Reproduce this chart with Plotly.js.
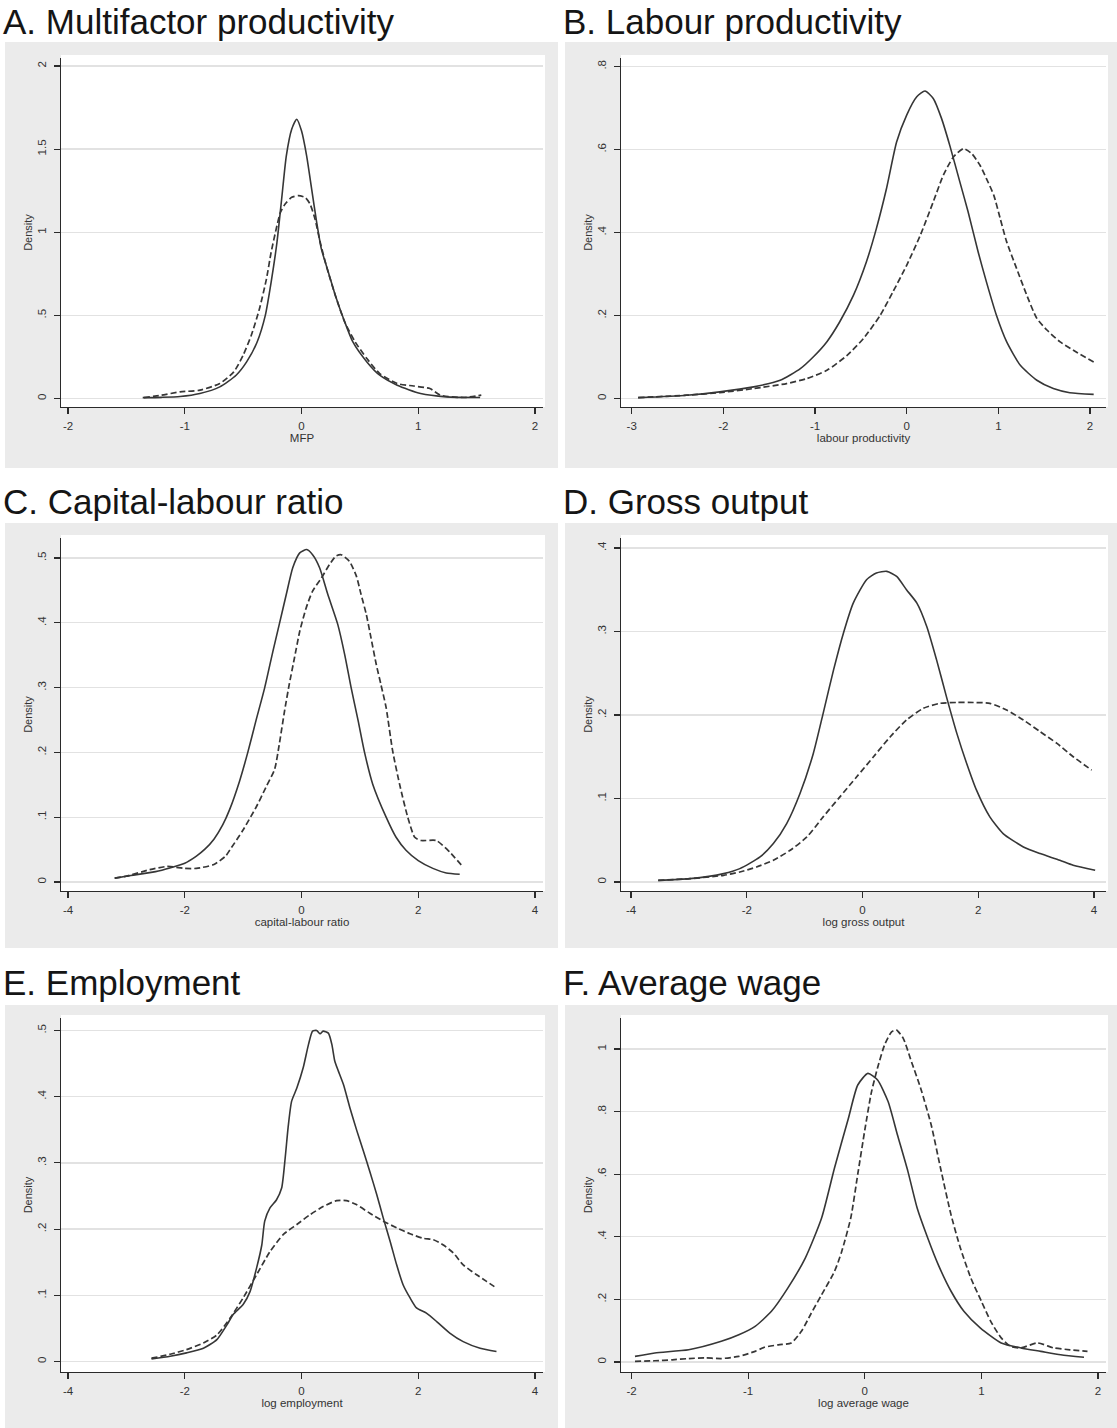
<!DOCTYPE html>
<html><head><meta charset="utf-8">
<script src="https://cdn.plot.ly/plotly-3.0.1.min.js"></script>
<style>html,body{margin:0;padding:0;background:#fff}#chart{width:1117px;height:1428px}</style>
</head><body><div id="chart"></div>
<script>
// ---------------- DATA ----------------
// Panel titles and axis titles
const panelTitles = ['A. Multifactor productivity','B. Labour productivity','C. Capital-labour ratio','D. Gross output','E. Employment','F. Average wage'];
const xTitles = ['MFP','labour productivity','capital-labour ratio','log gross output','log employment','log average wage'];
const yTitle = 'Density';

// Tick values / labels
const xTickValsA = [-2,-1,0,1,2];        const xTickTextA = ['-2','-1','0','1','2'];
const yTickValsA = [0,0.5,1,1.5,2];      const yTickTextA = ['0','.5','1','1.5','2'];
const xTickValsB = [-3,-2,-1,0,1,2];     const xTickTextB = ['-3','-2','-1','0','1','2'];
const yTickValsB = [0,0.2,0.4,0.6,0.8];  const yTickTextB = ['0','.2','.4','.6','.8'];
const xTickValsC = [-4,-2,0,2,4];        const xTickTextC = ['-4','-2','0','2','4'];
const yTickValsC = [0,0.1,0.2,0.3,0.4,0.5]; const yTickTextC = ['0','.1','.2','.3','.4','.5'];
const xTickValsD = [-4,-2,0,2,4];        const xTickTextD = ['-4','-2','0','2','4'];
const yTickValsD = [0,0.1,0.2,0.3,0.4];  const yTickTextD = ['0','.1','.2','.3','.4'];
const xTickValsE = [-4,-2,0,2,4];        const xTickTextE = ['-4','-2','0','2','4'];
const yTickValsE = [0,0.1,0.2,0.3,0.4,0.5]; const yTickTextE = ['0','.1','.2','.3','.4','.5'];
const xTickValsF = [-2,-1,0,1,2];        const xTickTextF = ['-2','-1','0','1','2'];
const yTickValsF = [0,0.2,0.4,0.6,0.8,1]; const yTickTextF = ['0','.2','.4','.6','.8','1'];

// A. Multifactor productivity
const aSolidX = [-1.36,-1.2,-1.04,-0.87,-0.7,-0.56,-0.47,-0.38,-0.31,-0.26,-0.21,-0.17,-0.13,-0.084,-0.041,0.0,0.044,0.087,0.13,0.17,0.23,0.29,0.36,0.44,0.56,0.67,0.82,1.02,1.24,1.53];
const aSolidY = [0.005,0.007,0.012,0.03,0.07,0.14,0.22,0.34,0.5,0.7,0.94,1.2,1.46,1.62,1.68,1.61,1.46,1.26,1.06,0.9,0.76,0.62,0.48,0.34,0.22,0.14,0.08,0.03,0.01,0.006];
const aDashX = [-1.35,-1.2,-1.04,-0.87,-0.7,-0.58,-0.5,-0.43,-0.36,-0.3,-0.26,-0.21,-0.18,-0.14,-0.084,-0.027,0.03,0.073,0.116,0.16,0.22,0.29,0.37,0.46,0.56,0.67,0.82,0.96,1.1,1.19,1.39,1.54];
const aDashY = [0.005,0.02,0.04,0.05,0.09,0.16,0.26,0.38,0.54,0.72,0.88,1.04,1.12,1.17,1.21,1.22,1.21,1.17,1.08,0.94,0.78,0.62,0.46,0.34,0.24,0.15,0.09,0.075,0.06,0.02,0.006,0.02];

// B. Labour productivity
const bSolidX = [-2.93,-2.4,-2.04,-1.67,-1.38,-1.16,-1.02,-0.87,-0.73,-0.58,-0.44,-0.33,-0.22,-0.11,0.0,0.11,0.2,0.29,0.38,0.47,0.58,0.67,0.78,0.87,0.98,1.09,1.24,1.42,1.6,1.78,2.04];
const bSolidY = [0.002,0.008,0.016,0.028,0.044,0.072,0.1,0.137,0.185,0.249,0.329,0.41,0.506,0.618,0.683,0.727,0.741,0.723,0.675,0.61,0.522,0.45,0.353,0.281,0.2,0.137,0.08,0.044,0.024,0.014,0.01];
const bDashX = [-2.93,-2.4,-2.04,-1.67,-1.31,-1.09,-0.87,-0.65,-0.47,-0.29,-0.15,0.0,0.15,0.29,0.4,0.51,0.62,0.71,0.8,0.87,0.95,1.02,1.09,1.2,1.31,1.42,1.53,1.67,1.85,2.04];
const bDashY = [0.002,0.008,0.014,0.024,0.036,0.048,0.068,0.104,0.145,0.2,0.257,0.321,0.394,0.474,0.538,0.582,0.602,0.59,0.562,0.53,0.49,0.434,0.378,0.313,0.249,0.193,0.165,0.137,0.112,0.088];

// C. Capital-labour ratio
const cSolidX = [-3.2,-3.0,-2.5,-2.0,-1.8,-1.65,-1.5,-1.35,-1.23,-1.06,-0.92,-0.78,-0.63,-0.49,-0.38,-0.26,-0.15,-0.03,0.09,0.19,0.31,0.45,0.62,0.74,0.85,0.97,1.08,1.22,1.45,1.62,1.79,2.0,2.25,2.48,2.71];
const cSolidY = [0.006,0.009,0.016,0.029,0.04,0.051,0.066,0.088,0.112,0.156,0.2,0.249,0.3,0.356,0.398,0.444,0.485,0.508,0.513,0.505,0.485,0.444,0.398,0.351,0.3,0.249,0.2,0.151,0.1,0.069,0.049,0.033,0.021,0.014,0.012];
const cDashX = [-3.2,-3.0,-2.6,-2.3,-2.0,-1.8,-1.5,-1.3,-1.23,-1.01,-0.78,-0.61,-0.46,-0.38,-0.29,-0.21,-0.12,-0.03,0.08,0.19,0.34,0.48,0.59,0.68,0.82,0.94,1.02,1.11,1.19,1.28,1.36,1.45,1.56,1.68,1.82,1.94,2.05,2.31,2.54,2.74];
const cDashY = [0.006,0.009,0.019,0.024,0.021,0.021,0.027,0.04,0.049,0.079,0.115,0.146,0.174,0.213,0.264,0.305,0.346,0.387,0.423,0.449,0.469,0.49,0.503,0.505,0.495,0.472,0.444,0.413,0.377,0.336,0.305,0.269,0.203,0.151,0.1,0.069,0.064,0.064,0.046,0.026];

// D. Gross output
const dSolidX = [-3.53,-2.98,-2.4,-2.12,-1.77,-1.54,-1.31,-1.08,-0.85,-0.68,-0.5,-0.33,-0.16,0.07,0.24,0.42,0.59,0.76,0.94,1.11,1.28,1.45,1.63,1.8,1.97,2.2,2.43,2.78,3.07,3.41,3.64,4.02];
const dSolidY = [0.002,0.004,0.01,0.016,0.03,0.046,0.07,0.106,0.154,0.202,0.254,0.298,0.334,0.362,0.37,0.372,0.366,0.35,0.334,0.306,0.266,0.222,0.178,0.142,0.11,0.078,0.058,0.042,0.034,0.026,0.02,0.014];
const dDashX = [-3.53,-2.98,-2.4,-2.12,-1.83,-1.54,-1.25,-0.96,-0.68,-0.39,-0.1,0.19,0.48,0.76,1.05,1.34,1.63,1.92,2.2,2.49,2.78,3.07,3.36,3.64,3.96];
const dDashY = [0.002,0.004,0.008,0.012,0.018,0.026,0.038,0.054,0.078,0.102,0.126,0.15,0.174,0.194,0.208,0.214,0.215,0.215,0.214,0.206,0.194,0.18,0.166,0.15,0.134];

// E. Employment
const eSolidX = [-2.57,-2.25,-1.97,-1.68,-1.45,-1.28,-1.17,-1.0,-0.88,-0.77,-0.68,-0.63,-0.54,-0.43,-0.34,-0.28,-0.23,-0.17,-0.08,0.03,0.12,0.19,0.26,0.32,0.37,0.46,0.52,0.57,0.63,0.72,0.83,0.95,1.06,1.17,1.29,1.4,1.52,1.63,1.74,1.86,1.97,2.14,2.32,2.54,2.77,3.06,3.34];
const eSolidY = [0.004,0.008,0.013,0.02,0.033,0.055,0.071,0.086,0.106,0.141,0.176,0.212,0.232,0.244,0.262,0.307,0.353,0.393,0.413,0.444,0.479,0.499,0.5,0.495,0.499,0.496,0.479,0.454,0.439,0.418,0.383,0.348,0.318,0.287,0.252,0.217,0.181,0.146,0.116,0.096,0.081,0.073,0.06,0.043,0.03,0.02,0.015];
const eDashX = [-2.57,-2.25,-1.97,-1.68,-1.45,-1.22,-1.0,-0.77,-0.54,-0.31,-0.08,0.15,0.37,0.6,0.77,0.94,1.17,1.4,1.63,1.86,2.09,2.26,2.43,2.6,2.77,3.0,3.17,3.34];
const eDashY = [0.005,0.011,0.018,0.028,0.04,0.066,0.096,0.131,0.166,0.192,0.207,0.222,0.234,0.243,0.243,0.237,0.224,0.212,0.202,0.193,0.186,0.184,0.176,0.164,0.146,0.131,0.121,0.111];

// F. Average wage
const fSolidX = [-1.97,-1.8,-1.51,-1.23,-1.08,-0.94,-0.8,-0.66,-0.51,-0.37,-0.26,-0.14,-0.06,0.027,0.11,0.2,0.28,0.37,0.45,0.54,0.63,0.74,0.85,0.99,1.17,1.34,1.51,1.68,1.88];
const fSolidY = [0.018,0.029,0.039,0.066,0.087,0.114,0.162,0.236,0.332,0.46,0.619,0.779,0.885,0.922,0.901,0.832,0.726,0.609,0.491,0.396,0.311,0.226,0.162,0.109,0.061,0.045,0.034,0.023,0.015];
const fDashX = [-1.97,-1.8,-1.65,-1.51,-1.37,-1.23,-1.08,-0.94,-0.86,-0.74,-0.63,-0.54,-0.46,-0.37,-0.26,-0.2,-0.12,-0.06,0.0,0.056,0.11,0.17,0.23,0.27,0.33,0.4,0.48,0.57,0.65,0.74,0.82,0.91,1.0,1.08,1.17,1.25,1.34,1.48,1.62,1.76,1.91];
const fDashY = [0.002,0.004,0.007,0.011,0.013,0.011,0.018,0.034,0.047,0.055,0.061,0.1,0.155,0.215,0.289,0.35,0.46,0.6,0.74,0.86,0.94,1.013,1.055,1.061,1.034,0.96,0.874,0.757,0.619,0.47,0.364,0.268,0.194,0.13,0.077,0.05,0.045,0.061,0.045,0.039,0.034];

// ---------------- LAYOUT GEOMETRY (pixels) ----------------
const W = 1117, H = 1428;
const FONT = 'Liberation Sans, Arial, Helvetica, sans-serif';
const INK = '#363636';

const geo = [
  {box:[5,42,558,468],    plot:[61,58,543,407],    xmap:[-2,68,2,535],      ymap:[0,398.5,2,66],   tb:32},
  {box:[565,42,1117,468], plot:[621,58,1106,407],  xmap:[-3,631.7,2,1090],  ymap:[0,398.5,0.8,66.5], tb:32},
  {box:[5,523,558,948],   plot:[61,538,543,891],   xmap:[-4,68,4,535],      ymap:[0,882,0.5,558],  tb:513},
  {box:[565,523,1117,948],plot:[621,538,1106,891], xmap:[-4,631,4,1094],    ymap:[0,882,0.4,548],  tb:513},
  {box:[5,1005,558,1428], plot:[61,1018,543,1372], xmap:[-4,68,4,535],      ymap:[0,1361.5,0.5,1030.5], tb:994},
  {box:[565,1005,1117,1428],plot:[621,1018,1106,1372], xmap:[-2,631.5,2,1098], ymap:[0,1362,1,1049], tb:994}
];

const series = [
  [aSolidX,aSolidY,aDashX,aDashY],
  [bSolidX,bSolidY,bDashX,bDashY],
  [cSolidX,cSolidY,cDashX,cDashY],
  [dSolidX,dSolidY,dDashX,dDashY],
  [eSolidX,eSolidY,eDashX,eDashY],
  [fSolidX,fSolidY,fDashX,fDashY]
];
const xTicks = [[xTickValsA,xTickTextA],[xTickValsB,xTickTextB],[xTickValsC,xTickTextC],[xTickValsD,xTickTextD],[xTickValsE,xTickTextE],[xTickValsF,xTickTextF]];
const yTicks = [[yTickValsA,yTickTextA],[yTickValsB,yTickTextB],[yTickValsC,yTickTextC],[yTickValsD,yTickTextD],[yTickValsE,yTickTextE],[yTickValsF,yTickTextF]];

function rng(m, e1, e2){
  const [v1,p1,v2,p2] = m; const s = (v2-v1)/(p2-p1);
  return [v1+(e1-p1)*s, v1+(e2-p1)*s];
}

const TITLE_SIZE = 35;
const traces = [];
const layout = {
  width: W, height: H,
  margin: {l:0,r:0,t:0,b:0},
  paper_bgcolor: '#ffffff',
  plot_bgcolor: 'rgba(0,0,0,0)',
  showlegend: false,
  font: {family: FONT, color: '#333'},
  shapes: [], annotations: []
};

geo.forEach((g,i) => {
  const n = i+1;
  const xa = n===1 ? 'x' : 'x'+n, ya = n===1 ? 'y' : 'y'+n;
  const xk = n===1 ? 'xaxis' : 'xaxis'+n, yk = n===1 ? 'yaxis' : 'yaxis'+n;
  const [sx,sy,dx,dy] = series[i];
  traces.push({x:sx, y:sy, xaxis:xa, yaxis:ya, type:'scatter', mode:'lines',
    line:{color:INK, width:1.6, shape:'spline', smoothing:0.6}, hoverinfo:'skip'});
  traces.push({x:dx, y:dy, xaxis:xa, yaxis:ya, type:'scatter', mode:'lines',
    line:{color:INK, width:1.7, dash:'6px,3px', shape:'spline', smoothing:0.6}, hoverinfo:'skip'});

  const [L,T,R,B] = g.plot;
  layout[xk] = {
    domain:[L/W, R/W], anchor:ya, range:rng(g.xmap, L, R),
    tickmode:'array', tickvals:xTicks[i][0], ticktext:xTicks[i][1],
    showgrid:false, zeroline:false, showline:true, linecolor:'#2a2a2a', linewidth:1.3,
    ticks:'outside', ticklen:6, tickwidth:1.1, tickcolor:'#2a2a2a', ticklabelstandoff:2,
    tickfont:{family:FONT, size:11.5, color:'#333'},
    title:{text:xTitles[i], font:{family:FONT, size:11.5, color:'#333'}, standoff:1},
    fixedrange:true
  };
  layout[yk] = {
    domain:[1-B/H, 1-T/H], anchor:xa, range:rng(g.ymap, B, T),
    tickmode:'array', tickvals:yTicks[i][0], ticktext:yTicks[i][1], tickangle:-90,
    showgrid:true, gridcolor:'#e2e2e2', gridwidth:1.3,
    zeroline:true, zerolinecolor:'#e2e2e2', zerolinewidth:1.3,
    showline:true, linecolor:'#2a2a2a', linewidth:1.3,
    ticks:'outside', ticklen:6, tickwidth:1.1, tickcolor:'#2a2a2a', ticklabelstandoff:3,
    tickfont:{family:FONT, size:11.5, color:'#333'},
    title:{text:yTitle, font:{family:FONT, size:11, color:'#333'}, standoff:1},
    fixedrange:true
  };
  // gray panel background
  layout.shapes.push({type:'rect', xref:'paper', yref:'paper', layer:'below',
    x0:g.box[0]/W, x1:g.box[2]/W, y0:1-g.box[3]/H, y1:1-g.box[1]/H,
    fillcolor:'#ebebeb', line:{width:0}});
  // white plot region
  layout.shapes.push({type:'rect', xref:'paper', yref:'paper', layer:'below',
    x0:L/W, x1:(R+2)/W, y0:1-B/H, y1:1-(T-3)/H,
    fillcolor:'#ffffff', line:{width:0}});
  // panel title (top of text box placed so the baseline lands at g.tb)
  const topPx = Math.max(0.5, g.tb - 0.905*TITLE_SIZE);
  layout.annotations.push({text:panelTitles[i], xref:'paper', yref:'paper',
    x:(g.box[0]-3)/W, y:1-topPx/H, xanchor:'left', yanchor:'top', showarrow:false,
    borderpad:0, font:{family:FONT, size:TITLE_SIZE, color:'#151515'}});
});

Plotly.newPlot('chart', traces, layout, {staticPlot:true, displayModeBar:false});
</script>
</body></html>
